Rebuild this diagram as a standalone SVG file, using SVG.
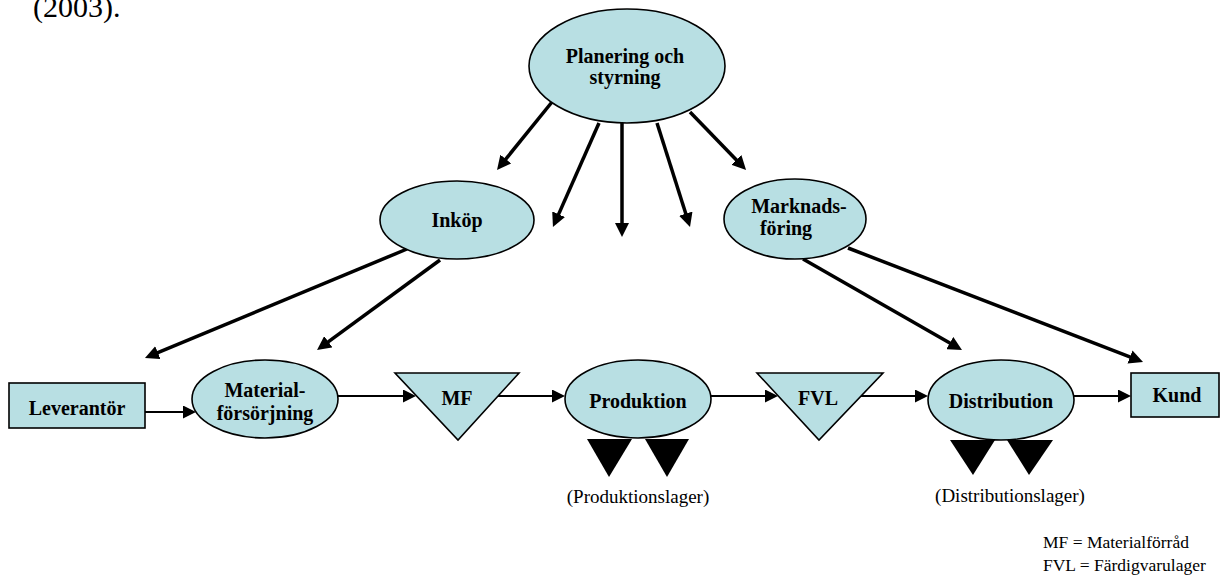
<svg xmlns="http://www.w3.org/2000/svg" width="1221" height="585" viewBox="0 0 1221 585">
  <style>
    .node { fill: #b8dfe3; stroke: #000; stroke-width: 1.6; }
    .store { fill: #000; stroke: none; }
    .lbl { font-family: "Liberation Serif", "Times New Roman", serif; font-weight: bold; font-size: 20px; fill: #000; text-anchor: middle; }
    .note { font-family: "Liberation Serif", "Times New Roman", serif; font-size: 19px; fill: #000; text-anchor: middle; }
    .legend { font-family: "Liberation Serif", "Times New Roman", serif; font-size: 17.5px; fill: #000; }
    .heavy { stroke: #000; stroke-width: 3.5; fill: none; marker-end: url(#headBig); }
    .flow { stroke: #000; stroke-width: 2; fill: none; marker-end: url(#headSmall); }
  </style>
  <defs>
    <marker id="headBig" markerUnits="userSpaceOnUse" markerWidth="14" markerHeight="14" refX="4" refY="7" orient="auto">
      <path d="M0,0 L14,7 L0,14 z" fill="#000"/>
    </marker>
    <marker id="headSmall" markerUnits="userSpaceOnUse" markerWidth="13" markerHeight="13" refX="7" refY="6.5" orient="auto">
      <path d="M0,0 L13,6.5 L0,13 z" fill="#000"/>
    </marker>
  </defs>

  <rect width="1221" height="585" fill="#fff"/>

  <!-- running text above the figure -->
  <text x="33" y="17" font-family="'Liberation Serif', 'Times New Roman', serif" font-size="30">(2003).</text>

  <!-- connectors -->
  <g id="connectors">
    <!-- from planning -->
    <line class="heavy" x1="552" y1="102" x2="503.3" y2="162.2"/>
    <line class="heavy" x1="599" y1="123" x2="557.0" y2="217.9"/>
    <line class="heavy" x1="622" y1="123" x2="622" y2="227"/>
    <line class="heavy" x1="657" y1="123" x2="687.0" y2="217.5"/>
    <line class="heavy" x1="690" y1="112" x2="739.1" y2="162.8"/>
    <!-- from purchasing -->
    <line class="heavy" x1="407" y1="249" x2="154.2" y2="354.2"/>
    <line class="heavy" x1="440" y1="260" x2="325.1" y2="344.1"/>
    <!-- from marketing -->
    <line class="heavy" x1="803" y1="259" x2="953.3" y2="345.0"/>
    <line class="heavy" x1="848" y1="248" x2="1133.7" y2="358.4"/>
    <!-- main material flow -->
    <line class="flow" x1="145" y1="412" x2="190" y2="412"/>
    <line class="flow" x1="338" y1="396" x2="410" y2="396"/>
    <line class="flow" x1="497" y1="396" x2="559" y2="396"/>
    <line class="flow" x1="711" y1="396" x2="772" y2="396"/>
    <line class="flow" x1="860" y1="396" x2="922" y2="396"/>
    <line class="flow" x1="1074" y1="396" x2="1125" y2="396"/>
  </g>

  <g id="planering">
    <ellipse class="node" cx="627" cy="66" rx="98" ry="57"/>
    <text class="lbl" x="625" y="63">Planering och</text>
    <text class="lbl" x="625" y="84">styrning</text>
  </g>

  <g id="inkop">
    <ellipse class="node" cx="457" cy="220" rx="77" ry="39"/>
    <text class="lbl" x="457" y="227">Inköp</text>
  </g>

  <g id="marknadsforing">
    <ellipse class="node" cx="795" cy="219" rx="71" ry="40"/>
    <text class="lbl" x="799" y="213">Marknads-</text>
    <text class="lbl" x="786" y="235">föring</text>
  </g>

  <g id="leverantor">
    <rect class="node" x="9" y="383" width="136" height="45"/>
    <text class="lbl" x="77" y="415">Leverantör</text>
  </g>

  <g id="materialforsorjning">
    <ellipse class="node" cx="265" cy="399" rx="73" ry="39"/>
    <text class="lbl" x="265" y="397">Material-</text>
    <text class="lbl" x="265" y="420">försörjning</text>
  </g>

  <g id="mf">
    <polygon class="node" points="395,373 519,373 458,440"/>
    <text class="lbl" x="457" y="405">MF</text>
  </g>

  <g id="produktion">
    <ellipse class="node" cx="638" cy="399" rx="73" ry="39"/>
    <text class="lbl" x="638" y="408">Produktion</text>
    <polygon class="store" points="587,439 632,439 609,477"/>
    <polygon class="store" points="645,439 689,439 667,477"/>
    <text class="note" x="638" y="503">(Produktionslager)</text>
  </g>

  <g id="fvl">
    <polygon class="node" points="757,373 883,373 819,440"/>
    <text class="lbl" x="818" y="405">FVL</text>
  </g>

  <g id="distribution">
    <ellipse class="node" cx="1001" cy="400" rx="73" ry="40"/>
    <text class="lbl" x="1001" y="408">Distribution</text>
    <polygon class="store" points="950,440 995,440 973,475"/>
    <polygon class="store" points="1007,440 1053,440 1029,475"/>
    <text class="note" x="1010" y="502">(Distributionslager)</text>
  </g>

  <g id="kund">
    <rect class="node" x="1131" y="373" width="88" height="44"/>
    <text class="lbl" x="1177" y="402">Kund</text>
  </g>

  <g id="legend">
    <text class="legend" x="1043" y="548">MF = Materialförråd</text>
    <text class="legend" x="1043" y="571">FVL = Färdigvarulager</text>
  </g>
</svg>
